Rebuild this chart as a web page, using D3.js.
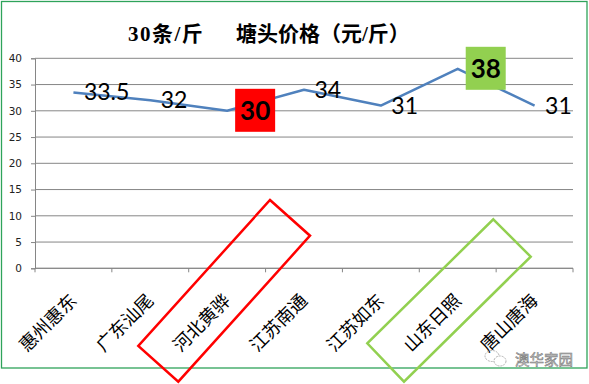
<!DOCTYPE html>
<html>
<head>
<meta charset="utf-8">
<script src="https://cdn.jsdelivr.net/npm/d3@7"></script>
<style>
  html, body { margin: 0; padding: 0; background: #fff; }
  svg { display: block; }
</style>
</head>
<body>
<svg id="chart" width="589" height="384"></svg>
<script>
// ---- data ----
const categories = ["惠州惠东", "广东汕尾", "河北黄骅", "江苏南通", "江苏如东", "山东日照", "唐山唐海"];
const prices = [33.5, 32, 30, 34, 31, 38, 31];
const yTicks = [0, 5, 10, 15, 20, 25, 30, 35, 40];
const highlight = { "河北黄骅": "#ff0000", "山东日照": "#92d050" };
const titleLeft = "30条/斤";
const titleRight = "塘头价格（元/斤）";
const watermark = "澳华家园";

(function () {
// ---- layout ----
const svg = d3.select("#chart");
const pL = 35, pR = 573, pT = 58.3, pB = 268.3;

const x = d3.scaleBand().domain(categories).range([pL, pR]).paddingInner(0).paddingOuter(0);
const y = d3.scaleLinear().domain([0, 40]).range([pB, pT]);
const cx = c => x(c) + x.bandwidth() / 2;

// outer border
svg.append("rect").attr("x", 1.5).attr("y", 1.5).attr("width", 585.5).attr("height", 366.5)
  .attr("fill", "#fff").attr("stroke", "#2ea35a").attr("stroke-width", 1.3);

// title
const tf = "'Liberation Serif', 'Noto Sans CJK SC', serif";
svg.append("text").attr("x", 128).attr("y", 40.5).attr("font-family", tf).attr("font-weight", "bold")
  .attr("font-size", 21).attr("letter-spacing", 1.5).attr("fill", "#000").text(titleLeft);
svg.append("text").attr("x", 236).attr("y", 40.5).attr("font-family", tf).attr("font-weight", "bold")
  .attr("font-size", 21).attr("fill", "#000").text(titleRight);

// gridlines
svg.append("g").selectAll("line").data(yTicks).join("line")
  .attr("x1", pL).attr("x2", pR)
  .attr("y1", d => y(d)).attr("y2", d => y(d))
  .attr("stroke", "#868686").attr("stroke-width", 1);

// y axis
const yAxis = svg.append("g").attr("transform", `translate(${pL},0)`)
  .call(d3.axisLeft(y).tickValues(yTicks).tickSize(4).tickPadding(9));
yAxis.select(".domain").attr("stroke", "#868686");
yAxis.selectAll(".tick line").attr("stroke", "#868686");
yAxis.selectAll(".tick text").attr("font-family", "'DejaVu Sans', sans-serif")
  .attr("font-size", 10.5).attr("fill", "#222");

// x axis
const bounds = categories.map(c => x(c)).concat([pR]);
svg.append("line").attr("x1", pL).attr("x2", pR).attr("y1", pB).attr("y2", pB)
  .attr("stroke", "#868686");
svg.append("g").selectAll("line").data(bounds).join("line")
  .attr("x1", d => d).attr("x2", d => d).attr("y1", pB).attr("y2", pB + 4)
  .attr("stroke", "#868686");

// x labels
svg.append("g").selectAll("text").data(categories).join("text")
  .attr("transform", d => `translate(${cx(d)},${pB + 29}) rotate(-45)`)
  .attr("text-anchor", "end").attr("dy", "0.35em")
  .attr("font-family", "'Noto Sans CJK SC', sans-serif").attr("font-size", 18)
  .attr("fill", "#000").text(d => d);

// line
const line = d3.line().x((d, i) => cx(categories[i])).y(d => y(d));
svg.append("path").datum(prices).attr("d", line)
  .attr("fill", "none").attr("stroke", "#4f81bd").attr("stroke-width", 2.5)
  .attr("stroke-linejoin", "round");

// data labels
const lf = "Lato, 'Liberation Sans', sans-serif";
prices.forEach((v, i) => {
  const c = categories[i];
  const px = cx(c), py = y(v);
  if (highlight[c]) {
    svg.append("rect").attr("x", px + 8).attr("y", py - 22).attr("width", 40).attr("height", 43)
      .attr("fill", highlight[c]);
    svg.append("text").attr("x", px + 28).attr("y", py + 9).attr("text-anchor", "middle")
      .attr("font-family", lf).attr("font-weight", "bold").attr("font-size", 26)
      .attr("fill", "#000").text(v);
  } else {
    svg.append("text").attr("x", px + 10.5).attr("y", py + 8).attr("text-anchor", "start")
      .attr("font-family", lf).attr("font-size", 23).attr("fill", "#000").text(v);
  }
});

// annotation frames (rotated rectangles around highlighted labels)
const frames = [
  { color: "#ff0000", pts: [[270, 200], [310, 235.7], [178.3, 381.7], [138.3, 346]] },
  { color: "#92d050", pts: [[493.3, 219.3], [530.7, 256.7], [404, 381.7], [367.3, 343.3]] }
];
svg.append("g").selectAll("polygon").data(frames).join("polygon")
  .attr("points", d => d.pts.map(p => p.join(",")).join(" "))
  .attr("fill", "none").attr("stroke", d => d.color).attr("stroke-width", 2.5);

// watermark
const wm = svg.append("g");
wm.append("ellipse").attr("cx", 492).attr("cy", 356).attr("rx", 7).attr("ry", 5.5)
  .attr("fill", "none").attr("stroke", "#b0b0b0").attr("stroke-width", 1).attr("stroke-dasharray", "2,1");
wm.append("ellipse").attr("cx", 500).attr("cy", 361).attr("rx", 6).attr("ry", 5)
  .attr("fill", "#fff").attr("stroke", "#b0b0b0").attr("stroke-width", 1).attr("stroke-dasharray", "2,1");
wm.append("text").attr("x", 515).attr("y", 365).attr("font-family", "'Noto Sans CJK SC', sans-serif")
  .attr("font-size", 14.5).attr("fill", "#c4c4c4").attr("stroke", "#7a7a7a").attr("stroke-width", 0.5)
  .text(watermark);
})();
</script>
</body>
</html>
